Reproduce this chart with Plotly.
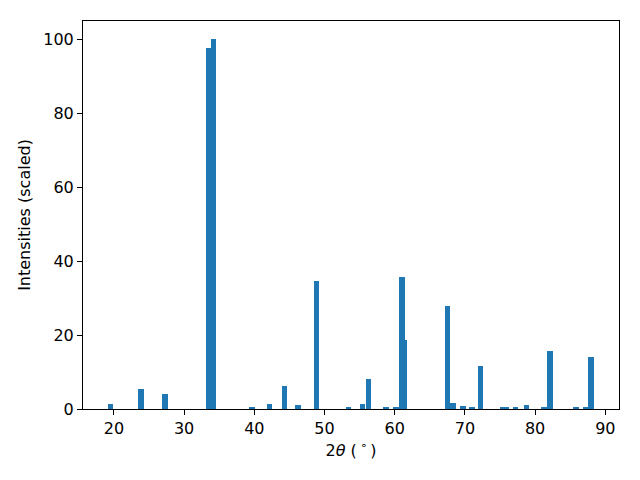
import plotly.graph_objects as go

two_theta = [19.5, 23.9, 27.3, 33.5, 34.2, 39.7, 42.15, 44.3, 46.2, 48.85,
             53.4, 55.4, 56.25, 58.8, 60.2, 61.4, 61.0, 67.5, 68.3, 69.7,
             71.0, 72.2, 75.4, 75.9, 77.2, 78.75, 81.3, 82.1, 85.8, 87.2, 88.0]
intensity = [1.35, 5.4, 4.1, 97.6, 100.0, 0.35, 1.35, 6.2, 1.1, 34.7,
             0.3, 1.35, 8.1, 0.6, 0.3, 18.7, 35.8, 27.9, 1.6, 0.8,
             0.3, 11.65, 0.3, 0.3, 0.5, 1.1, 0.3, 15.7, 0.3, 0.3, 14.1]

fig = go.Figure(go.Bar(x=two_theta, y=intensity, width=0.8,
                       marker=dict(color="#1f77b4", line=dict(width=0))))

font = dict(family="DejaVu Sans", size=16, color="black")
axis_common = dict(showline=True, linecolor="black", linewidth=1, mirror=True,
                   ticks="outside", ticklen=5, tickwidth=1, tickcolor="black",
                   showgrid=False, zeroline=False, automargin=False,
                   tickfont=font)

fig.update_xaxes(range=[15.6, 91.95], tickvals=[20, 30, 40, 50, 60, 70, 80, 90],
                 title=dict(text="2<i>θ</i> (\u2009<sup>∘</sup>\u2009)", standoff=7, font=font),
                 **axis_common)
fig.update_yaxes(range=[0, 105], tickvals=[0, 20, 40, 60, 80, 100],
                 title=dict(text="Intensities (scaled)", standoff=8, font=font),
                 **axis_common)

fig.update_layout(width=640, height=480, plot_bgcolor="white", paper_bgcolor="white",
                  margin=dict(l=75, r=29, t=13, b=79), showlegend=False, bargap=0)

fig.write_html("out.html")
